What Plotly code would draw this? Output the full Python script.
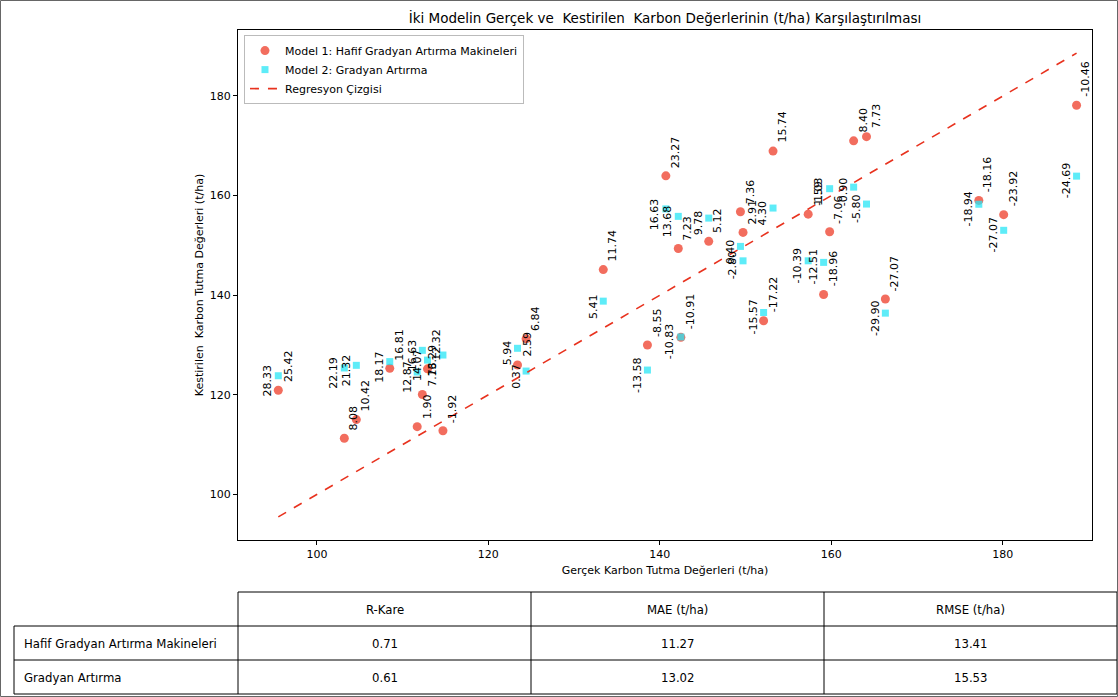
import plotly.graph_objects as go

# ---------------- data ----------------
actual = [95.5, 103.2, 104.6, 108.5, 111.7, 112.3, 112.9, 114.7, 123.4, 124.4,
          133.4, 138.55, 140.7, 142.15, 142.45, 145.7, 149.4, 149.7, 152.1, 153.2,
          157.3, 159.1, 159.8, 162.6, 164.1, 166.3, 177.2, 180.1, 188.6]
resid_m1 = [25.42, 8.08, 10.42, 16.81, 1.90, 7.76, 12.32, -1.92, 2.59, 6.84,
            11.74, -8.55, 23.27, 7.23, -10.91, 5.12, 7.36, 2.91, -17.22, 15.74,
            -1.03, -18.96, -7.06, 8.40, 7.73, -27.07, -18.16, -23.92, -10.46]
resid_m2 = [28.33, 22.19, 21.32, 18.17, 12.87, 16.63, 14.07, 13.29, 5.94, 0.37,
            5.41, -13.58, 16.63, 13.68, -10.83, 9.78, 0.40, -2.80, -15.57, 4.30,
            -10.39, -12.51, 1.59, -0.90, -5.80, -29.90, -18.94, -27.07, -24.69]
pred_m1 = [a + r for a, r in zip(actual, resid_m1)]
pred_m2 = [a + r for a, r in zip(actual, resid_m2)]

table_cols = ["R-Kare", "MAE (t/ha)", "RMSE (t/ha)"]
table_rows = ["Hafif Gradyan Artırma Makineleri", "Gradyan Artırma"]
table_vals = [["0.71", "11.27", "13.41"], ["0.61", "13.02", "15.53"]]

# ---------------- layout geometry ----------------
W, H = 1118, 697
L, R, T, B = 238, 1092, 30, 540
PW, PH = R - L, B - T


def px_x(px):
    return (px - L) / PW


def px_y(py):
    return (B - py) / PH


RED = "rgba(240,84,66,0.85)"
CYAN = "rgba(40,230,245,0.75)"
FONT = "DejaVu Sans, Verdana, sans-serif"

fig = go.Figure()
fig.add_trace(go.Scatter(
    x=actual, y=pred_m1, mode="markers",
    name="Model 1: Hafif Gradyan Artırma Makineleri",
    marker=dict(symbol="circle", size=9, color=RED, line=dict(width=0))))
fig.add_trace(go.Scatter(
    x=actual, y=pred_m2, mode="markers",
    name="Model 2: Gradyan Artırma",
    marker=dict(symbol="square", size=7, color=CYAN, line=dict(width=0))))
lo, hi = min(actual), max(actual)
fig.add_trace(go.Scatter(
    x=[lo, hi], y=[lo, hi], mode="lines", name="Regresyon Çizgisi",
    line=dict(color="#e8321e", width=1.6, dash="dash")))

ann = []
for a, p, r in zip(actual, pred_m1, resid_m1):
    ann.append(dict(x=a, y=p, xref="x", yref="y", text=f"{r:.2f}", showarrow=False,
                    textangle=-90, xanchor="left", yanchor="bottom",
                    xshift=1, yshift=6, font=dict(size=11, color="black", family=FONT)))
for a, p, r in zip(actual, pred_m2, resid_m2):
    ann.append(dict(x=a, y=p, xref="x", yref="y", text=f"{r:.2f}", showarrow=False,
                    textangle=-90, xanchor="right", yanchor="middle",
                    xshift=-2, yshift=-5, font=dict(size=11, color="black", family=FONT)))

# ---------------- table (shapes + text) ----------------
TFONT = "DejaVu Sans Condensed, Liberation Sans Narrow, DejaVu Sans, sans-serif"
col_x = [238, 531, 824, 1117]
row_y = [592, 626, 660, 694]
lab_x = 14
shapes = []


def line(x0, y0, x1, y1, color="black", w=1):
    shapes.append(dict(type="line", xref="paper", yref="paper",
                       x0=px_x(x0), y0=px_y(y0), x1=px_x(x1), y1=px_y(y1),
                       line=dict(color=color, width=w)))


line(col_x[0], row_y[0], col_x[-1], row_y[0])
for yy in row_y[1:]:
    line(lab_x, yy, col_x[-1], yy)
for xx in col_x:
    line(xx, row_y[0], xx, row_y[-1])
line(lab_x, row_y[1], lab_x, row_y[-1])

for j, c in enumerate(table_cols):
    ann.append(dict(x=px_x((col_x[j] + col_x[j + 1]) / 2), y=px_y((row_y[0] + row_y[1]) / 2),
                    xref="paper", yref="paper", text=c, showarrow=False,
                    xanchor="center", yanchor="middle",
                    font=dict(size=13, color="black", family=TFONT)))
for i, rl in enumerate(table_rows):
    yc = px_y((row_y[i + 1] + row_y[i + 2]) / 2)
    ann.append(dict(x=px_x(lab_x + 8), y=yc, xref="paper", yref="paper", text=rl,
                    showarrow=False, xanchor="left", yanchor="middle",
                    font=dict(size=13, color="black", family=TFONT)))
    for j, v in enumerate(table_vals[i]):
        ann.append(dict(x=px_x((col_x[j] + col_x[j + 1]) / 2), y=yc,
                        xref="paper", yref="paper", text=v, showarrow=False,
                        xanchor="center", yanchor="middle",
                        font=dict(size=13, color="black", family=TFONT)))

# outer figure border
shapes.append(dict(type="rect", xref="paper", yref="paper",
                   x0=px_x(0.5), y0=px_y(696.5), x1=px_x(1117.5), y1=px_y(0.5),
                   line=dict(color="#666666", width=1)))

fig.update_layout(
    width=W, height=H,
    margin=dict(l=L, r=W - R, t=T, b=H - B, autoexpand=False),
    paper_bgcolor="white", plot_bgcolor="white",
    font=dict(family=FONT, size=11, color="black"),
    title=dict(text="İki Modelin Gerçek ve\u00a0 Kestirilen\u00a0 Karbon Değerlerinin (t/ha) Karşılaştırılması",
               x=0.5, xref="paper", xanchor="center", y=1 - 18 / H, yanchor="middle",
               font=dict(size=13.5, family=FONT, color="black")),
    xaxis=dict(range=[90.8, 190.4], tickvals=[100, 120, 140, 160, 180],
               showgrid=False, zeroline=False, showline=True, mirror=True,
               linecolor="black", linewidth=1, ticks="outside", ticklen=4,
               tickcolor="black", tickfont=dict(size=11),
               title=dict(text="Gerçek Karbon Tutma Değerleri (t/ha)", font=dict(size=11), standoff=6)),
    yaxis=dict(range=[90.85, 193.25], tickvals=[100, 120, 140, 160, 180],
               showgrid=False, zeroline=False, showline=True, mirror=True,
               linecolor="black", linewidth=1, ticks="outside", ticklen=4,
               tickcolor="black", tickfont=dict(size=11),
               title=dict(text="Kestirilen\u00a0 Karbon Tutma Değerleri (t/ha)", font=dict(size=11), standoff=3)),
    legend=dict(x=0.007, y=0.99, xanchor="left", yanchor="top",
                bgcolor="rgba(255,255,255,0.9)", bordercolor="#bbbbbb", borderwidth=1,
                font=dict(size=11), tracegroupgap=0, itemwidth=30),
    showlegend=True,
    annotations=ann,
    shapes=shapes,
)

fig.write_html("out.html", config={"displayModeBar": False},
               post_script="document.body.style.margin='0';document.body.style.overflow='hidden';")
